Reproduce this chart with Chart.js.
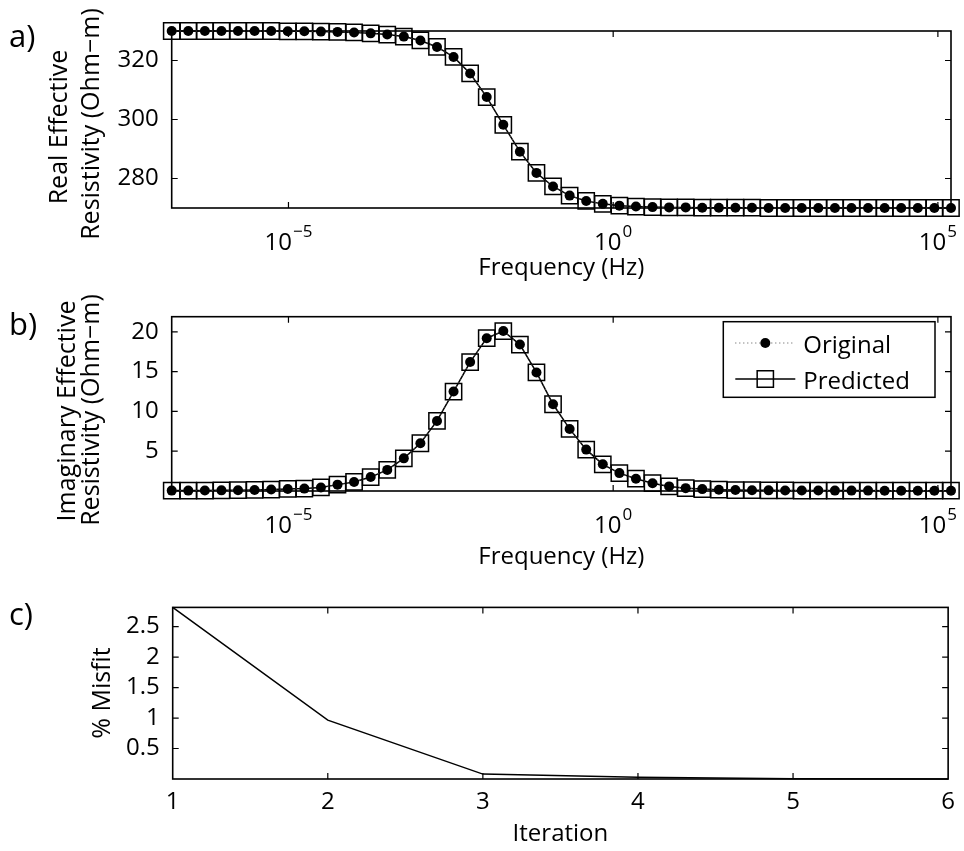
<!DOCTYPE html>
<html>
<head>
<meta charset="utf-8">
<script src="https://cdn.jsdelivr.net/npm/chart.js@4.4.1/dist/chart.umd.min.js"></script>
<style>
html,body{margin:0;padding:0;background:#fff;}
canvas{display:block;}
</style>
</head>
<body>
<canvas id="pa" width="964" height="285"></canvas>
<canvas id="pb" width="964" height="295"></canvas>
<canvas id="pc" width="964" height="271"></canvas>
<script>
// frequency samples (Hz)
const freq = [1.592e-7, 2.866e-7, 5.159e-7, 9.288e-7, 1.672e-6, 3.009e-6, 5.417e-6, 9.752e-6,
  1.756e-5, 3.161e-5, 5.690e-5, 1.024e-4, 1.844e-4, 3.319e-4, 5.975e-4, 1.075e-3,
  1.936e-3, 3.485e-3, 6.273e-3, 1.129e-2, 2.033e-2, 3.660e-2, 6.588e-2, 0.1186,
  0.2135, 0.3843, 0.6918, 1.245, 2.242, 4.036, 7.264, 13.08,
  23.54, 42.38, 76.28, 137.3, 247.2, 444.9, 801.0, 1442,
  2596, 4672, 8411, 15140, 27250, 49060, 88310, 159200];

// real effective resistivity (Ohm-m)
const realOrig = [330.0, 330.0, 330.0, 330.0, 330.0, 330.0, 330.0, 329.9,
  329.9, 329.8, 329.7, 329.5, 329.2, 328.8, 328.1, 326.8,
  324.6, 321.2, 315.6, 307.6, 298.2, 289.1, 281.9, 277.3,
  274.2, 272.4, 271.4, 270.8, 270.5, 270.3, 270.2, 270.2,
  270.1, 270.1, 270.1, 270.1, 270.0, 270.0, 270.0, 270.0,
  270.0, 270.0, 270.0, 270.0, 270.0, 270.0, 270.0, 270.0];
const realPred = [330.0, 330.0, 330.0, 330.0, 330.0, 330.0, 330.0, 329.9,
  329.9, 329.8, 329.7, 329.5, 329.2, 328.8, 328.1, 326.8,
  324.6, 321.2, 315.6, 307.6, 298.2, 289.1, 281.9, 277.3,
  274.2, 272.4, 271.4, 270.8, 270.5, 270.3, 270.2, 270.2,
  270.1, 270.1, 270.1, 270.1, 270.0, 270.0, 270.0, 270.0,
  270.0, 270.0, 270.0, 270.0, 270.0, 270.0, 270.0, 270.0];

// imaginary effective resistivity (Ohm-m)
const imagOrig = [0.05, 0.05, 0.06, 0.08, 0.10, 0.13, 0.18, 0.26,
  0.30, 0.45, 0.80, 1.14, 1.75, 2.65, 4.10, 6.00,
  8.80, 12.5, 16.2, 19.2, 20.1, 18.4, 14.9, 10.9,
  7.80, 5.20, 3.35, 2.25, 1.55, 0.98, 0.58, 0.36,
  0.24, 0.16, 0.12, 0.10, 0.08, 0.07, 0.06, 0.06,
  0.05, 0.05, 0.05, 0.04, 0.04, 0.04, 0.04, 0.04];
const imagPred = [0.05, 0.05, 0.06, 0.08, 0.10, 0.13, 0.18, 0.26,
  0.30, 0.45, 0.80, 1.14, 1.75, 2.65, 4.10, 6.00,
  8.80, 12.5, 16.2, 19.2, 20.1, 18.4, 14.9, 10.9,
  7.80, 5.20, 3.35, 2.25, 1.55, 0.98, 0.58, 0.36,
  0.24, 0.16, 0.12, 0.10, 0.08, 0.07, 0.06, 0.06,
  0.05, 0.05, 0.05, 0.04, 0.04, 0.04, 0.04, 0.04];

// inversion misfit
const iterations = [1, 2, 3, 4, 5, 6];
const misfit = [2.815, 0.965, 0.08, 0.03, 0.005, 0.0];

// tick values
const freqTicks = [1e-5, 1, 1e5];
const realTicks = [280, 300, 320];
const imagTicks = [5, 10, 15, 20];
const misfitTicks = [0.5, 1, 1.5, 2, 2.5];
const iterTicks = [1, 2, 3, 4, 5, 6];

const FONT = '"Open Sans", sans-serif';
Chart.defaults.font.family = FONT;
Chart.defaults.color = '#000';

function pts(xs, ys){ return xs.map((x,i)=>({x, y: ys[i]})); }

// box, inward ticks, titles, exponent labels, legend
const axesBox = {
  id: 'axesBox',
  beforeDatasetsDraw(chart, args, o) {
    const {ctx, chartArea: a, scales} = chart;
    ctx.save();
    ctx.strokeStyle = '#000';
    ctx.lineWidth = 1.6;
    ctx.strokeRect(a.left, a.top, a.right - a.left, a.bottom - a.top);
    ctx.lineWidth = 1.2;
    ctx.beginPath();
    const L = 6;
    scales.x.ticks.forEach(t => {
      const x = scales.x.getPixelForValue(t.value);
      if (x <= a.left + 1 || x >= a.right - 1) return;
      ctx.moveTo(x, a.bottom); ctx.lineTo(x, a.bottom - L);
      ctx.moveTo(x, a.top); ctx.lineTo(x, a.top + L);
    });
    scales.y.ticks.forEach(t => {
      const y = scales.y.getPixelForValue(t.value);
      ctx.moveTo(a.left, y); ctx.lineTo(a.left + L, y);
      ctx.moveTo(a.right, y); ctx.lineTo(a.right - L, y);
    });
    ctx.stroke();
    ctx.restore();
  },
  afterDatasetsDraw(chart, args, o) {
    const {ctx, chartArea: a, scales} = chart;
    ctx.save();
    ctx.fillStyle = '#000';
    // 10^n labels on log axes
    if (o.logLabels) {
      scales.x.ticks.forEach(t => {
        const x = scales.x.getPixelForValue(t.value);
        const e = Math.round(Math.log10(t.value));
        const es = e < 0 ? '\u2212' + (-e) : String(e);
        ctx.font = '24px ' + FONT;
        const w1 = ctx.measureText('10').width;
        ctx.font = '17px ' + FONT;
        const w2 = ctx.measureText(es).width;
        const x0 = x - (w1 + w2 + 1) / 2;
        ctx.textAlign = 'left';
        ctx.textBaseline = 'alphabetic';
        ctx.font = '24px ' + FONT;
        ctx.fillText('10', x0, a.bottom + 42);
        ctx.font = '17px ' + FONT;
        ctx.fillText(es, x0 + w1 + 1, a.bottom + 29);
      });
    }
    // x title
    ctx.font = '24px ' + FONT;
    ctx.textAlign = 'center';
    ctx.textBaseline = 'alphabetic';
    ctx.fillText(o.xTitle, (a.left + a.right) / 2, a.bottom + o.xTitleDy);
    // y title lines (rotated)
    ctx.font = '25px ' + FONT;
    o.yTitle.forEach(l => {
      ctx.save();
      ctx.translate(l.x, l.y);
      ctx.rotate(-Math.PI / 2);
      ctx.fillText(l.text, 0, 0);
      ctx.restore();
    });
    // panel letter
    ctx.font = '31px ' + FONT;
    ctx.textAlign = 'left';
    ctx.fillText(o.letter, 9, o.letterY);
    // legend
    if (o.legend) {
      const g = o.legend;
      ctx.fillStyle = '#fff';
      ctx.fillRect(g.x, g.y, g.w, g.h);
      ctx.strokeStyle = '#000';
      ctx.lineWidth = 1.5;
      ctx.strokeRect(g.x, g.y, g.w, g.h);
      chart.data.datasets.forEach((ds, i) => {
        const cy = g.y + g.rowY[i];
        const mx = g.x + 42;
        ctx.save();
        ctx.strokeStyle = ds.borderColor;
        ctx.lineWidth = ds.borderWidth;
        ctx.setLineDash(ds.borderDash || []);
        ctx.beginPath();
        ctx.moveTo(g.x + 12, cy); ctx.lineTo(g.x + 72, cy);
        ctx.stroke();
        ctx.restore();
        ctx.save();
        ctx.fillStyle = ds.pointBackgroundColor;
        ctx.strokeStyle = ds.pointBorderColor;
        ctx.lineWidth = ds.pointBorderWidth || 0.001;
        Chart.helpers.drawPoint(ctx, {
          pointStyle: ds.pointStyle, radius: ds.pointRadius, rotation: 0,
          borderWidth: ds.pointBorderWidth
        }, mx, cy);
        ctx.restore();
        ctx.fillStyle = '#000';
        ctx.font = '24px ' + FONT;
        ctx.textAlign = 'left';
        ctx.textBaseline = 'alphabetic';
        ctx.fillText(ds.label, g.x + 80, cy + 10);
      });
    }
    ctx.restore();
  }
};

function yScale(min, max, tickVals, width) {
  return {
    type: 'linear', min, max,
    afterBuildTicks: s => { s.ticks = tickVals.map(v => ({value: v})); },
    afterFit: s => { s.width = width; },
    grid: {display: false, drawTicks: false},
    border: {display: false},
    ticks: {font: {size: 24}, color: '#000', padding: 13, callback: v => String(v)}
  };
}

function freqDatasets(orig, pred) {
  return [
    {label: 'Original', data: pts(freq, orig), borderColor: '#555', borderWidth: 1,
     borderDash: [1, 3], pointStyle: 'circle', pointRadius: 5, pointBorderWidth: 0,
     pointBackgroundColor: '#000', pointBorderColor: '#000', clip: false, tension: 0},
    {label: 'Predicted', data: pts(freq, pred), borderColor: '#000', borderWidth: 1.5,
     pointStyle: 'rect', pointRadius: 11.5, pointBorderWidth: 1.5,
     pointBackgroundColor: 'rgba(0,0,0,0)', pointBorderColor: '#000', clip: false, tension: 0}
  ];
}

function freqX(height) {
  return {
    type: 'logarithmic', min: freq[0], max: freq[freq.length - 1],
    afterBuildTicks: s => { s.ticks = freqTicks.map(v => ({value: v})); },
    afterFit: s => { s.height = height; },
    grid: {display: false, drawTicks: false},
    border: {display: false},
    ticks: {display: false}
  };
}

const common = {responsive: false, animation: false, devicePixelRatio: 1,
  events: []};

// panel a: canvas rows 0..285
new Chart(document.getElementById('pa'), {
  type: 'line',
  data: {datasets: freqDatasets(realOrig, realPred)},
  plugins: [axesBox],
  options: Object.assign({}, common, {
    layout: {padding: {left: 0, right: 964 - 953.3, top: 31, bottom: 0}},
    scales: {x: freqX(285 - 208), y: yScale(270, 330, realTicks, 171.7)},
    plugins: {
      legend: {display: false}, tooltip: {enabled: false},
      axesBox: {
        logLabels: true, xTitle: 'Frequency (Hz)', xTitleDy: 67,
        yTitle: [{text: 'Real Effective', x: 67, y: 127},
                 {text: 'Resistivity (Ohm\u2212m)', x: 99, y: 124}],
        letter: 'a)', letterY: 47
      }
    }
  })
});

// panel b: canvas rows 285..580
new Chart(document.getElementById('pb'), {
  type: 'line',
  data: {datasets: freqDatasets(imagOrig, imagPred)},
  plugins: [axesBox],
  options: Object.assign({}, common, {
    layout: {padding: {left: 0, right: 964 - 953.3, top: 31.7, bottom: 0}},
    scales: {x: freqX(295 - 206), y: yScale(0, 21.9, imagTicks, 171.7)},
    plugins: {
      legend: {display: false}, tooltip: {enabled: false},
      axesBox: {
        logLabels: true, xTitle: 'Frequency (Hz)', xTitleDy: 73,
        yTitle: [{text: 'Imaginary Effective', x: 75, y: 126},
                 {text: 'Resistivity (Ohm\u2212m)', x: 99, y: 125}],
        letter: 'b)', letterY: 50,
        legend: {x: 723.3, y: 36.7, w: 211.7, h: 75.6, rowY: [21.3, 57.3]}
      }
    }
  })
});

// panel c: canvas rows 580..851
new Chart(document.getElementById('pc'), {
  type: 'line',
  data: {datasets: [{label: '% Misfit', data: pts(iterations, misfit), borderColor: '#000',
    borderWidth: 1.5, pointRadius: 0, tension: 0, clip: false}]},
  plugins: [axesBox],
  options: Object.assign({}, common, {
    layout: {padding: {left: 0, right: 964 - 954, top: 21, bottom: 0}},
    scales: {
      x: {
        type: 'linear', min: 1, max: 6,
        afterBuildTicks: s => { s.ticks = iterTicks.map(v => ({value: v})); },
        afterFit: s => { s.height = 271 - 199; },
        grid: {display: false, drawTicks: false},
        border: {display: false},
        ticks: {font: {size: 24}, color: '#000', padding: 9, maxRotation: 0,
          callback: v => String(v)}
      },
      y: yScale(0, 2.815, misfitTicks, 172.7)
    },
    plugins: {
      legend: {display: false}, tooltip: {enabled: false},
      axesBox: {
        logLabels: false, xTitle: 'Iteration', xTitleDy: 62,
        yTitle: [{text: '% Misfit', x: 110, y: 113}],
        letter: 'c)', letterY: 45
      }
    }
  })
});
</script>
</body>
</html>
